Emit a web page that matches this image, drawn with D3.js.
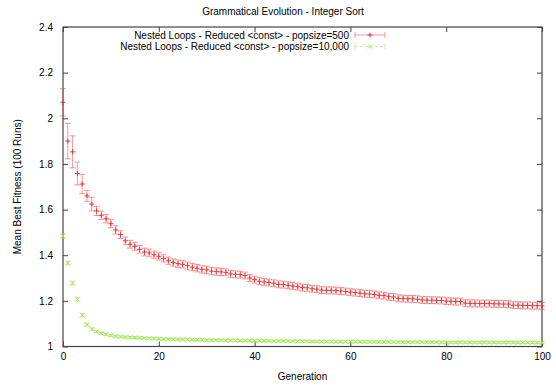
<!DOCTYPE html>
<html>
<head>
<meta charset="utf-8">
<script src="https://cdn.jsdelivr.net/npm/d3@7"></script>
<style>
  body { margin: 0; background: #fff; }
  text { font-family: "Liberation Sans", Arial, Helvetica, sans-serif; }
</style>
</head>
<body>
<div id="d3"></div>
<script>
// generations 0..100
const generations = d3.range(0, 101);

// popsize=500 (mean best fitness, error bar half-height)
const redMean = [
  2.07, 1.90, 1.853, 1.758, 1.712, 1.66, 1.624, 1.594, 1.575, 1.56,
  1.538, 1.511, 1.49, 1.463, 1.448, 1.439, 1.426, 1.414, 1.41, 1.402,
  1.395, 1.386, 1.376, 1.368, 1.363, 1.36, 1.354, 1.348, 1.343, 1.338,
  1.336, 1.330, 1.328, 1.327, 1.325, 1.318, 1.316, 1.315, 1.311, 1.300,
  1.293, 1.286, 1.283, 1.280, 1.277, 1.272, 1.271, 1.268, 1.265, 1.262,
  1.258, 1.257, 1.253, 1.251, 1.247, 1.246, 1.246, 1.245, 1.243, 1.241,
  1.238, 1.236, 1.234, 1.231, 1.230, 1.228, 1.224, 1.223, 1.218, 1.217,
  1.211, 1.210, 1.209, 1.209, 1.207, 1.204, 1.203, 1.203, 1.202, 1.202,
  1.199, 1.198, 1.197, 1.197, 1.190, 1.189, 1.189, 1.188, 1.188, 1.188,
  1.187, 1.187, 1.186, 1.186, 1.181, 1.181, 1.180, 1.180, 1.179, 1.179,
  1.178
];
const redErr = [
  0.06, 0.078, 0.07, 0.05, 0.042, 0.024, 0.03, 0.02, 0.018, 0.018,
  0.018, 0.018, 0.017, 0.017, 0.017, 0.017, 0.017, 0.017, 0.017, 0.016,
  0.016, 0.016, 0.016, 0.016, 0.016, 0.016, 0.016, 0.016, 0.016, 0.016,
  0.016, 0.016, 0.016, 0.016, 0.015, 0.015, 0.015, 0.015, 0.015, 0.015,
  0.015, 0.015, 0.015, 0.015, 0.015, 0.015, 0.015, 0.015, 0.015, 0.015,
  0.015, 0.015, 0.015, 0.015, 0.015, 0.015, 0.015, 0.015, 0.015, 0.015,
  0.015, 0.015, 0.015, 0.015, 0.015, 0.015, 0.015, 0.015, 0.015, 0.015,
  0.015, 0.015, 0.015, 0.015, 0.015, 0.015, 0.015, 0.015, 0.015, 0.015,
  0.015, 0.015, 0.015, 0.015, 0.015, 0.015, 0.015, 0.015, 0.015, 0.015,
  0.015, 0.015, 0.015, 0.015, 0.015, 0.015, 0.015, 0.015, 0.015, 0.015,
  0.015
];

// popsize=10,000
const greenMean = [
  1.484, 1.366, 1.278, 1.207, 1.137, 1.096, 1.076, 1.066, 1.058, 1.053,
  1.048, 1.045, 1.043, 1.041, 1.040, 1.039, 1.038, 1.037, 1.036, 1.035,
  1.034, 1.033, 1.032, 1.032, 1.031, 1.031, 1.030, 1.030, 1.029, 1.029,
  1.028, 1.028, 1.028, 1.027, 1.027, 1.027, 1.026, 1.026, 1.026, 1.026,
  1.025, 1.025, 1.025, 1.025, 1.024, 1.024, 1.024, 1.024, 1.023, 1.023,
  1.023, 1.023, 1.022, 1.022, 1.022, 1.022, 1.022, 1.021, 1.021, 1.021,
  1.021, 1.021, 1.021, 1.020, 1.020, 1.020, 1.020, 1.020, 1.020, 1.020,
  1.019, 1.019, 1.019, 1.019, 1.019, 1.019, 1.019, 1.019, 1.019, 1.018,
  1.018, 1.018, 1.018, 1.018, 1.018, 1.018, 1.018, 1.018, 1.018, 1.018,
  1.018, 1.018, 1.018, 1.018, 1.018, 1.017, 1.017, 1.017, 1.017, 1.017,
  1.017
];
const greenErr = [
  0.01, 0.008, 0.009, 0.009, 0.008, 0.006, 0.005, 0.005, 0.004, 0.004,
  0.004, 0.004, 0.004, 0.004, 0.004, 0.004, 0.004, 0.004, 0.004, 0.004,
  0.004, 0.004, 0.004, 0.004, 0.004, 0.004, 0.004, 0.004, 0.004, 0.004,
  0.004, 0.004, 0.004, 0.004, 0.004, 0.004, 0.004, 0.004, 0.004, 0.004,
  0.004, 0.004, 0.004, 0.004, 0.004, 0.004, 0.004, 0.004, 0.004, 0.004,
  0.004, 0.004, 0.004, 0.004, 0.004, 0.004, 0.004, 0.004, 0.004, 0.004,
  0.004, 0.004, 0.004, 0.004, 0.004, 0.004, 0.004, 0.004, 0.004, 0.004,
  0.004, 0.004, 0.004, 0.004, 0.004, 0.004, 0.004, 0.004, 0.004, 0.004,
  0.004, 0.004, 0.004, 0.004, 0.004, 0.004, 0.004, 0.004, 0.004, 0.004,
  0.004, 0.004, 0.004, 0.004, 0.004, 0.004, 0.004, 0.004, 0.004, 0.004,
  0.004
];

const xTicks = [0, 20, 40, 60, 80, 100];
const yTicks = [1, 1.2, 1.4, 1.6, 1.8, 2, 2.2, 2.4];

const seriesNames = [
  "Nested Loops - Reduced <const> - popsize=500",
  "Nested Loops - Reduced <const> - popsize=10,000"
];
const titleText = "Grammatical Evolution - Integer Sort";
const xLabel = "Generation";
const yLabel = "Mean Best Fitness (100 Runs)";

const width = 556;
const height = 385;
const margin = { left: 63, right: 14, top: 27, bottom: 38.5 };
const fontSize = "10px";

const red = "#ec3434";
const redBar = "rgba(238, 70, 70, 0.55)";
const green = "#9be84a";
const greenBar = "rgba(160, 230, 80, 0.55)";

const svg = d3
  .select("#d3")
  .append("svg")
  .attr("width", width)
  .attr("height", height);

const x = d3
  .scaleLinear()
  .domain([0, 100])
  .range([margin.left, width - margin.right]);

const y = d3
  .scaleLinear()
  .domain([1, 2.4])
  .range([height - margin.bottom, margin.top]);

// title
svg
  .append("text")
  .attr("x", 283)
  .attr("y", 15)
  .attr("text-anchor", "middle")
  .style("font-size", fontSize)
  .text(titleText);

// axes (gnuplot style: inward ticks on all four sides)
const tickStyle = (g) => {
  g.select(".domain").remove();
  g.selectAll("line").attr("stroke", "#444");
  g.selectAll("text").style("font-size", fontSize).attr("fill", "#000");
};

svg
  .append("g")
  .attr("transform", `translate(0,${y(1)})`)
  .call(d3.axisBottom(x).tickValues(xTicks).tickSize(-5).tickPadding(6).tickFormat(d3.format("d")))
  .call(tickStyle);

svg
  .append("g")
  .attr("transform", `translate(0,${y(2.4)})`)
  .call(d3.axisTop(x).tickValues(xTicks).tickSize(-5).tickFormat(""))
  .call(tickStyle);

svg
  .append("g")
  .attr("transform", `translate(${x(0)},0)`)
  .call(d3.axisLeft(y).tickValues(yTicks).tickSize(-5).tickPadding(10).tickFormat((d) => d3.format("")(+d.toFixed(1))))
  .call(tickStyle);

svg
  .append("g")
  .attr("transform", `translate(${x(100)},0)`)
  .call(d3.axisRight(y).tickValues(yTicks).tickSize(-5).tickFormat(""))
  .call(tickStyle);

// frame
svg
  .append("rect")
  .attr("x", x(0))
  .attr("y", y(2.4))
  .attr("width", x(100) - x(0))
  .attr("height", y(1) - y(2.4))
  .attr("fill", "none")
  .attr("stroke", "#444")
  .attr("stroke-width", 1.2);

// axis labels
svg
  .append("text")
  .attr("x", (x(0) + x(100)) / 2)
  .attr("y", 380)
  .attr("text-anchor", "middle")
  .style("font-size", fontSize)
  .text(xLabel);

svg
  .append("text")
  .attr("transform", `translate(21,${(y(1) + y(2.4)) / 2}) rotate(-90)`)
  .attr("text-anchor", "middle")
  .style("font-size", fontSize)
  .text(yLabel);

// error bars + points
function drawSeries(mean, err, barColor, pointColor, shape) {
  const data = generations.map((g, i) => ({ g: g, m: mean[i], e: err[i] }));
  const grp = svg.append("g");
  const cap = 3;

  const bars = grp.selectAll("g.bar").data(data).enter().append("g");
  bars
    .append("line")
    .attr("x1", (d) => x(d.g))
    .attr("x2", (d) => x(d.g))
    .attr("y1", (d) => y(d.m - d.e))
    .attr("y2", (d) => y(d.m + d.e))
    .attr("stroke", barColor);
  bars
    .append("line")
    .attr("x1", (d) => x(d.g) - cap)
    .attr("x2", (d) => x(d.g) + cap)
    .attr("y1", (d) => y(d.m - d.e))
    .attr("y2", (d) => y(d.m - d.e))
    .attr("stroke", barColor);
  bars
    .append("line")
    .attr("x1", (d) => x(d.g) - cap)
    .attr("x2", (d) => x(d.g) + cap)
    .attr("y1", (d) => y(d.m + d.e))
    .attr("y2", (d) => y(d.m + d.e))
    .attr("stroke", barColor);

  grp
    .selectAll("path.pt")
    .data(data)
    .enter()
    .append("path")
    .attr("d", (d) => shape(x(d.g), y(d.m)))
    .attr("stroke", pointColor)
    .attr("stroke-width", 1)
    .attr("fill", "none");
}

const plus = (cx, cy) => `M${cx - 2.5},${cy}H${cx + 2.5}M${cx},${cy - 2.5}V${cy + 2.5}`;
const cross = (cx, cy) => `M${cx - 2},${cy - 2}L${cx + 2},${cy + 2}M${cx - 2},${cy + 2}L${cx + 2},${cy - 2}`;

drawSeries(greenMean, greenErr, greenBar, green, cross);
drawSeries(redMean, redErr, redBar, red, plus);

// legend
const legendRows = [
  { name: seriesNames[0], y: 35, color: red, bar: redBar, shape: plus, dash: null },
  { name: seriesNames[1], y: 46.5, color: green, bar: greenBar, shape: cross, dash: "3,2" }
];
const lx1 = 355;
const lx2 = 385;
legendRows.forEach((r) => {
  svg
    .append("text")
    .attr("x", 349)
    .attr("y", r.y + 3.5)
    .attr("text-anchor", "end")
    .style("font-size", fontSize)
    .text(r.name);
  svg
    .append("line")
    .attr("x1", lx1)
    .attr("x2", lx2)
    .attr("y1", r.y)
    .attr("y2", r.y)
    .attr("stroke", r.bar)
    .attr("stroke-dasharray", r.dash);
  [lx1, lx2].forEach((ex) => {
    svg
      .append("line")
      .attr("x1", ex)
      .attr("x2", ex)
      .attr("y1", r.y - 3)
      .attr("y2", r.y + 3)
      .attr("stroke", r.bar);
  });
  svg
    .append("path")
    .attr("d", r.shape((lx1 + lx2) / 2, r.y))
    .attr("stroke", r.color)
    .attr("fill", "none");
});
</script>
</body>
</html>
